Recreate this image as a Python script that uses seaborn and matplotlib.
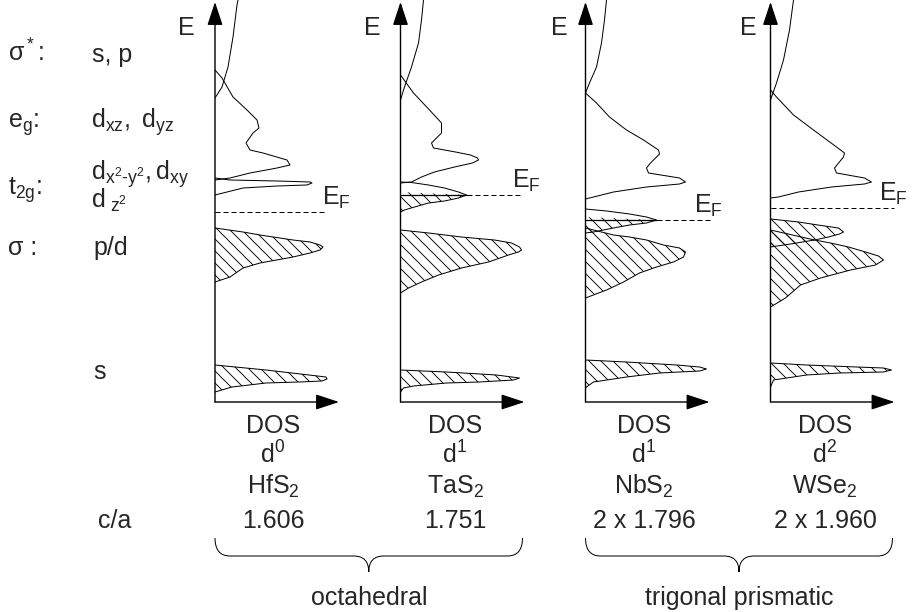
import numpy as np
import matplotlib
matplotlib.use("Agg")
import matplotlib.pyplot as plt
from matplotlib.path import Path
from matplotlib.patches import PathPatch
import seaborn as sns

# values: heights are pixel rows (0 = top of the figure),
# DOS is the distance from the E axis in pixels
BASE = 402          # pixel row of the DOS axis, i.e. E = 0
DOS_LEN = 124

compounds = [r"$\mathregular{HfS_2}$", r"$\mathregular{TaS_2}$",
             r"$\mathregular{NbS_2}$", r"$\mathregular{WSe_2}$"]
d_count = [r"$\mathregular{d^0}$", r"$\mathregular{d^1}$",
           r"$\mathregular{d^1}$", r"$\mathregular{d^2}$"]
ca_values = ["1.606", "1.751", "2 x 1.796", "2 x 1.960"]
groups = ["octahedral", "trigonal prismatic"]

# HfS2
hf_sstar_y = [0, 5, 37, 67, 87, 98]
hf_sstar_d = [23, 22, 18, 13, 7, 0]
hf_eg_y = [70, 78, 97, 110, 120, 128, 133, 143, 150, 153, 160, 165, 168, 173, 178, 180]
hf_eg_d = [0, 7, 18, 32, 42, 44, 38, 31, 35, 48, 72, 75, 62, 35, 15, 0]
hf_t2g_y = [178, 180, 181, 182, 183, 185, 186, 188, 192, 195]
hf_t2g_d = [0, 15, 62, 95, 97, 92, 62, 28, 12, 0]
hf_sig_y = [228, 232, 235, 240, 242, 245, 247, 250, 253, 257, 263, 268, 277, 282]
hf_sig_d = [0, 28, 45, 78, 95, 105, 108, 105, 95, 78, 45, 28, 15, 0]
hf_s_y = [365, 370, 375, 377, 379, 381, 382, 383, 387, 392]
hf_s_d = [0, 51, 94, 111, 112, 107, 84, 51, 17, 0]

# TaS2
ta_sstar_y = [0, 20, 43, 67, 87, 100]
ta_sstar_d = [23, 21, 18, 11, 4, 0]
ta_eg_y = [75, 93, 110, 123, 133, 143, 148, 152, 155, 158, 160, 163, 167, 172, 177, 182, 183]
ta_eg_d = [0, 13, 29, 41, 41, 31, 33, 55, 70, 77, 78, 72, 54, 34, 21, 11, 0]
ta_t2g_y = [182, 182.5, 185, 188, 192, 195, 198, 201, 203, 207, 210, 212]
ta_t2g_d = [0, 11, 28, 44, 58, 66, 58, 44, 28, 14, 4, 0]
ta_sig_y = [230, 233, 237, 240, 243, 247, 250, 252, 255, 262, 268, 275, 282, 288, 293]
ta_sig_d = [0, 28, 61, 94, 111, 119, 121, 118, 108, 88, 61, 38, 21, 8, 0]
ta_s_y = [370, 372, 375, 378, 380, 382, 383, 386, 388, 392]
ta_s_d = [0, 46, 96, 119, 113, 79, 46, 13, 3, 0]

# NbS2
nb_sstar_y = [0, 20, 43, 67, 83, 93]
nb_sstar_d = [21, 19, 16, 11, 4, 0]
nb_eg_y = [93, 103, 117, 130, 140, 150, 154, 157, 163, 168, 173, 178, 182, 184, 187, 192, 197, 199]
nb_eg_d = [0, 11, 24, 41, 58, 73, 74, 71, 65, 61, 63, 94, 100, 94, 61, 28, 8, 0]
nb_t2g_y = [209, 211, 214, 217, 220, 223, 225, 228, 232, 233]
nb_t2g_d = [0, 21, 44, 61, 71, 61, 44, 28, 8, 0]
nb_sig_y = [228, 235, 237, 240, 245, 248, 252, 257, 262, 267, 273, 282, 290, 298]
nb_sig_d = [0, 28, 44, 61, 78, 94, 100, 98, 88, 71, 54, 38, 21, 0]
nb_s_y = [360, 362, 365, 367, 369, 371, 373, 377, 382, 387, 388]
nb_s_d = [0, 41, 91, 114, 121, 114, 74, 41, 8, 1, 0]

# WSe2
w_sstar_y = [0, 30, 60, 83, 97, 100]
w_sstar_d = [23, 19, 13, 6, 1, 0]
w_eg_y = [90, 97, 115, 130, 147, 153, 157, 168, 173, 178, 182, 184, 187, 192, 197, 198]
w_eg_d = [0, 6, 23, 43, 66, 74, 73, 64, 66, 94, 101, 94, 61, 28, 8, 0]
w_dz2_y = [219, 222, 226, 228, 232, 234, 237, 240, 244, 247]
w_dz2_d = [0, 28, 54, 68, 73, 69, 58, 44, 20, 0]
w_sig_y = [230, 240, 243, 247, 252, 256, 260, 265, 270, 278, 285, 298, 307]
w_sig_d = [0, 44, 60, 78, 95, 108, 113, 105, 80, 50, 30, 15, 0]
w_s_y = [363, 365, 367, 368, 370, 372, 373, 375, 380, 387]
w_s_d = [0, 36, 86, 113, 121, 113, 69, 36, 3, 0]

fermi_y = [212, 195, 220, 208]
fermi_end = [110, 122, 124, 124]

panels = [
    [(hf_sstar_y, hf_sstar_d, None), (hf_eg_y, hf_eg_d, None), (hf_t2g_y, hf_t2g_d, None),
     (hf_sig_y, hf_sig_d, "all"), (hf_s_y, hf_s_d, "all")],
    [(ta_sstar_y, ta_sstar_d, None), (ta_eg_y, ta_eg_d, None), (ta_t2g_y, ta_t2g_d, "below"),
     (ta_sig_y, ta_sig_d, "all"), (ta_s_y, ta_s_d, "all")],
    [(nb_sstar_y, nb_sstar_d, None), (nb_eg_y, nb_eg_d, None), (nb_t2g_y, nb_t2g_d, "below"),
     (nb_sig_y, nb_sig_d, "all"), (nb_s_y, nb_s_d, "all")],
    [(w_sstar_y, w_sstar_d, None), (w_eg_y, w_eg_d, None), (w_dz2_y, w_dz2_d, "all"),
     (w_sig_y, w_sig_d, "all"), (w_s_y, w_s_d, "all")],
]

# layout (pixels)
W, H = 913, 612
AXIS_X = [215, 400.5, 585.5, 770.5]
E_LABEL_OFF = [20, 20, 18, 14]
EF_LABEL_X = [107, 112, 109, 109]
COL_X = [273, 455, 644, 825]
FS = 25
HATCH = "\\\\"

sns.set_theme(style="white")
plt.rcParams["font.family"] = ["Liberation Sans", "DejaVu Sans"]
plt.rcParams["mathtext.fontset"] = "custom"
plt.rcParams["mathtext.rm"] = "Liberation Sans"
plt.rcParams["mathtext.it"] = "Liberation Sans:italic"
plt.rcParams["hatch.linewidth"] = 0.9
plt.rcParams["hatch.color"] = "black"

fig = plt.figure(figsize=(W / 72, H / 72), dpi=72, facecolor="white")

# overlay in pixel units for the labels and braces
ov = fig.add_axes([0, 0, 1, 1])
ov.set_xlim(0, W)
ov.set_ylim(H, 0)
ov.axis("off")

arrow = dict(arrowstyle="-|>,head_length=1.0,head_width=0.33", mutation_scale=20,
             color="black", lw=1.4, shrinkA=0, shrinkB=0)

for i, bands in enumerate(panels):
    ax = fig.add_axes([AXIS_X[i] / W, 1 - BASE / H, DOS_LEN / W, BASE / H])
    ax.set_xlim(0, DOS_LEN)
    ax.set_ylim(0, BASE)
    ax.axis("off")
    ef = BASE - fermi_y[i]
    ef_start = 0
    for y, d, fill in bands:
        e = BASE - np.asarray(y, float)
        d = np.asarray(d, float)
        sns.lineplot(x=d, y=e, sort=False, estimator=None, color="black", lw=1.0, ax=ax)
        if fill == "all":
            ax.fill_betweenx(e, 0, d, facecolor="none", edgecolor="black",
                             hatch=HATCH, linewidth=0)
        elif fill == "below":
            ax.fill_betweenx(e, 0, d, where=e <= ef + 0.01, interpolate=True,
                             facecolor="none", edgecolor="black", hatch=HATCH, linewidth=0)
            ef_start = np.interp(ef, e[::-1], d[::-1])
            ax.plot([0, ef_start], [ef, ef], color="black", lw=1.3)
    ax.plot([ef_start, fermi_end[i]], [ef, ef], color="black", lw=1.0,
            ls=(0, (5, 3)), clip_on=False)
    ax.annotate("", xy=(0, 400), xytext=(0, 0), arrowprops=arrow, annotation_clip=False)
    ax.annotate("", xy=(DOS_LEN, 0), xytext=(0, 0), arrowprops=arrow, annotation_clip=False)
    ax.text(-E_LABEL_OFF[i], BASE - 35, "E", ha="right", va="baseline", fontsize=FS,
            clip_on=False)
    ax.text(EF_LABEL_X[i], ef + 7, r"$\mathregular{E_F}$", ha="left", va="baseline",
            fontsize=FS, clip_on=False)

    ov.text(COL_X[i], 433, "DOS", ha="center", va="baseline", fontsize=FS)
    ov.text(COL_X[i], 464, d_count[i], ha="center", va="baseline", fontsize=FS)
    ov.text(COL_X[i], 494, compounds[i], ha="center", va="baseline", fontsize=FS)
    ov.text(COL_X[i], 528, ca_values[i], ha="center", va="baseline", fontsize=FS)

ov.text(98, 528, "c/a", ha="left", va="baseline", fontsize=FS)

# left column: levels and orbitals
ov.text(8, 62, r"$\mathregular{σ^*}$:", va="baseline", fontsize=FS)
ov.text(92, 62, "s, p", va="baseline", fontsize=FS)
ov.text(8, 128, r"$\mathregular{e_g}$:", va="baseline", fontsize=FS)
ov.text(91, 128, r"$\mathregular{d_{xz},\ d_{yz}}$", va="baseline", fontsize=FS)
ov.text(8, 195, r"$\mathregular{t_{2g}}$:", va="baseline", fontsize=FS)
ov.text(91, 158, r"$\mathregular{d_{x^2\text{-}y^2},d_{xy}}$" + "\n"
        + r"$\mathregular{d_{\ z^2}}$", va="top", ha="left", fontsize=FS, linespacing=0.85)
ov.text(8, 255, "σ :", va="baseline", fontsize=FS)
ov.text(93, 255, "p/d", va="baseline", fontsize=FS)
ov.text(93, 379, "s", va="baseline", fontsize=FS)


def brace(x0, x1, y0=538, ym=556, yt=572, r=15):
    xc = (x0 + x1) / 2
    verts = [(x0, y0), (x0, ym), (x0 + r, ym), (xc - r, ym), (xc, ym), (xc, yt),
             (xc, ym), (xc + r, ym), (x1 - r, ym), (x1, ym), (x1, y0)]
    codes = [Path.MOVETO, Path.CURVE3, Path.CURVE3, Path.LINETO, Path.CURVE3, Path.CURVE3,
             Path.CURVE3, Path.CURVE3, Path.LINETO, Path.CURVE3, Path.CURVE3]
    ov.add_patch(PathPatch(Path(verts, codes), facecolor="none", edgecolor="black", lw=1.0))
    return xc


for k in range(2):
    xc = brace(AXIS_X[2 * k], AXIS_X[2 * k + 1] + 122)
    ov.text(xc, 605, groups[k], ha="center", va="baseline", fontsize=FS)

fig.savefig("out.png", dpi=72, facecolor="white")
